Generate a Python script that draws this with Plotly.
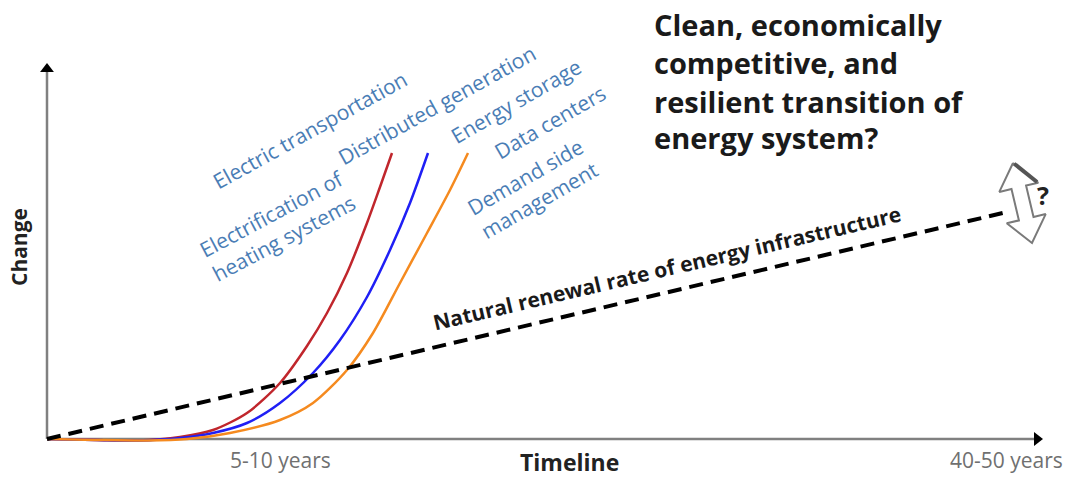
import math
import plotly.graph_objects as go

# ---------------- data (timeline units, change units) ----------------
red_x = [0, 5.0, 9.0, 13.3, 16.6, 20.0, 23.3, 26.0, 28.0, 30.0, 32.0, 33.3, 34.5]
red_y = [0, -0.1, -0.15, 0.2, 0.9, 2.6, 5.6, 9.3, 12.6, 16.6, 21.6, 25.2, 28.6]
blue_x = [0, 5.0, 9.0, 13.3, 16.6, 20.0, 23.3, 26.6, 29.3, 32.0, 34.3, 36.3, 38.1]
blue_y = [0, -0.1, -0.15, 0.1, 0.6, 1.6, 3.6, 6.6, 9.9, 14.2, 18.9, 23.6, 28.6]
orange_x = [0, 5.0, 10.0, 14.0, 18.3, 23.3, 26.6, 30.0, 32.6, 35.3, 38.0, 40.3, 42.1]
orange_y = [0, -0.1, -0.15, 0.0, 0.6, 1.9, 3.6, 6.9, 10.6, 15.6, 20.6, 24.9, 28.6]
renewal_x = [0, 96.0]
renewal_y = [0, 22.7]

tick_labels = ["5-10 years", "40-50 years"]
tick_pos = [23.3, 95.9]

axis_x_end = 99.6
axis_y_end = 37.6

# double arrow (top tip, bottom tip)
arrow_top = [96.6, 27.6]
arrow_bottom = [98.5, 19.6]

sector_labels = [
    "Electric transportation",
    "Distributed generation",
    "Energy storage",
    "Data centers",
    "Demand side<br>management",
    "Electrification of<br>heating systems",
]
sector_x = [26.3, 39.0, 46.9, 50.3, 48.5, 23.1]
sector_y = [30.9, 33.4, 33.8, 31.7, 25.1, 21.4]
sector_angle = [-29, -29, -30, -30, -30, -28]

title_lines = ["Clean, economically", "competitive, and",
               "resilient transition of", "energy system?"]
title_y = [41.45, 37.65, 33.75, 30.15]
title_x = 60.5

FONT = "Open Sans"
BLUE_TXT = "#4A7DB5"

fig = go.Figure()

# axes
fig.add_trace(go.Scatter(x=[0, axis_x_end - 0.8], y=[0, 0], mode="lines",
                         line=dict(color="#808080", width=2.5), hoverinfo="skip"))
fig.add_trace(go.Scatter(x=[0, 0], y=[0, axis_y_end - 0.8], mode="lines",
                         line=dict(color="#808080", width=2.5), hoverinfo="skip"))
fig.add_trace(go.Scatter(x=[axis_x_end - 0.6], y=[0], mode="markers",
                         marker=dict(symbol="triangle-right", size=12, color="black"),
                         hoverinfo="skip"))
fig.add_trace(go.Scatter(x=[0], y=[axis_y_end - 0.6], mode="markers",
                         marker=dict(symbol="triangle-up", size=12, color="black"),
                         hoverinfo="skip"))

# curves
for xs, ys, col in [(red_x, red_y, "#C0262C"), (blue_x, blue_y, "#1F1FF5"),
                    (orange_x, orange_y, "#F58A1F")]:
    fig.add_trace(go.Scatter(x=xs, y=ys, mode="lines",
                             line=dict(color=col, width=2.5, shape="spline", smoothing=0.8),
                             hoverinfo="skip"))

fig.add_trace(go.Scatter(x=renewal_x, y=renewal_y, mode="lines",
                         line=dict(color="black", width=4, dash="14px,8px"),
                         hoverinfo="skip"))

# hollow double arrow
tx, ty = arrow_top
bx, by = arrow_bottom
L = math.hypot(bx - tx, by - ty)
ux, uy = (bx - tx) / L, (by - ty) / L
px_, py_ = -uy, ux
head_len, head_w, shaft_w = 2.5, 2.0, 0.75
def pt(a, b):
    return (tx + ux * a + px_ * b, ty + uy * a + py_ * b)
poly = [pt(0, 0), pt(head_len, head_w), pt(head_len, shaft_w), pt(L - head_len, shaft_w),
        pt(L - head_len, head_w), pt(L, 0), pt(L - head_len, -head_w),
        pt(L - head_len, -shaft_w), pt(head_len, -shaft_w), pt(head_len, -head_w), pt(0, 0)]
fig.add_trace(go.Scatter(x=[p[0] for p in poly], y=[p[1] for p in poly], mode="lines",
                         fill="toself", fillcolor="white",
                         line=dict(color="#7a7a7a", width=2), hoverinfo="skip"))
edge = [pt(0.1, 0.1), pt(head_len - 0.1, head_w - 0.1)]
fig.add_trace(go.Scatter(x=[p[0] for p in edge], y=[p[1] for p in edge], mode="lines",
                         line=dict(color="#555555", width=4), hoverinfo="skip"))

ann = []
for t, x, y, a in zip(sector_labels, sector_x, sector_y, sector_angle):
    ann.append(dict(x=x, y=y, text=t, showarrow=False, textangle=a, align="left",
                    font=dict(family=FONT, size=21, color=BLUE_TXT),
                    xanchor="center", yanchor="middle"))
for t, y in zip(title_lines, title_y):
    ann.append(dict(x=title_x, y=y, text="<b>" + t + "</b>", showarrow=False,
                    xanchor="left", yanchor="middle",
                    font=dict(family=FONT, size=29, color="#1a1a1a")))
ann.append(dict(x=62.0, y=17.1, text="<b>Natural renewal rate of energy infrastructure</b>",
                showarrow=False, textangle=-13.2, xanchor="center", yanchor="middle",
                font=dict(family=FONT, size=21, color="#1a1a1a")))
for t, x in zip(tick_labels, tick_pos):
    ann.append(dict(x=x, y=-2.1, text=t, showarrow=False, xanchor="center", yanchor="middle",
                    font=dict(family=FONT, size=21, color="#707070")))
ann.append(dict(x=52.2, y=-2.25, text="<b>Timeline</b>", showarrow=False,
                xanchor="center", yanchor="middle",
                font=dict(family=FONT, size=23, color="#222222")))
ann.append(dict(x=-2.8, y=19.2, text="<b>Change</b>", showarrow=False, textangle=-90,
                xanchor="center", yanchor="middle",
                font=dict(family=FONT, size=21, color="#222222")))
ann.append(dict(x=99.6, y=24.4, text="<b>?</b>", showarrow=False,
                xanchor="center", yanchor="middle",
                font=dict(family=FONT, size=25, color="#222222")))

fig.update_layout(
    width=1067, height=479,
    margin=dict(l=0, r=0, t=0, b=0),
    paper_bgcolor="white", plot_bgcolor="white",
    showlegend=False,
    xaxis=dict(range=[-4.7, 102.0], visible=False, fixedrange=True),
    yaxis=dict(range=[-4.0, 43.9], visible=False, fixedrange=True),
    annotations=ann,
)

fig.write_html("out.html", config={"displayModeBar": False},
               post_script="document.body.style.margin='0';document.body.style.overflow='hidden';")
